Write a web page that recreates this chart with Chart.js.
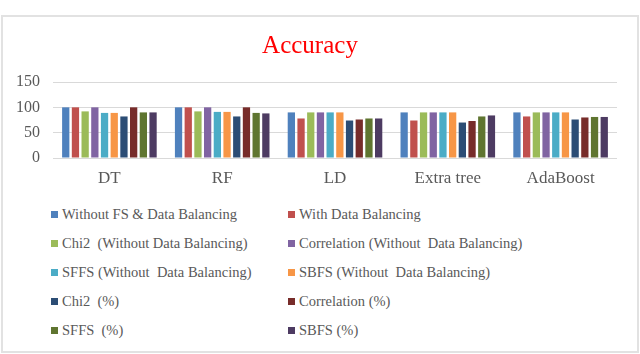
<!DOCTYPE html>
<html lang="en">
<head>
    <meta charset="UTF-8">
    <title>Accuracy</title>
    <script src="https://cdn.jsdelivr.net/npm/chart.js"></script>
    <style>
        body {
            margin: 0;
            width: 640px;
            height: 354px;
            background: #fff;
            position: relative;
            overflow: hidden;
            font-family: "Liberation Serif", serif;
        }
        .frame {
            position: absolute;
            left: 1px;
            top: 15px;
            width: 634px;
            height: 334px;
            border: 2px solid #e2e2e2;
        }
        .chart-box {
            position: absolute;
            left: 3px;
            top: 17px;
            width: 634px;
            height: 176px;
        }
        .legend-item {
            position: absolute;
            height: 18px;
            line-height: 18px;
            font-family: "Liberation Serif", "Times New Roman", serif;
            font-size: 14.5px;
            color: #595959;
            white-space: pre;
        }
        .legend-item span {
            position: absolute;
            top: 6px;
            width: 7px;
            height: 7px;
        }
        .legend-item b {
            font-weight: normal;
            font-family: "Liberation Serif", "Times New Roman", serif;
            position: absolute;
            left: 11px;
        }
    </style>
</head>
<body>
    <div class="frame"></div>
    <div class="chart-box">
        <canvas id="accChart"></canvas>
    </div>
    <div id="legend"></div>

    <script>
        const categories = ['DT', 'RF', 'LD', 'Extra tree', 'AdaBoost'];
        const yTicks = [0, 50, 100, 150];

        const withoutFsBal = [100, 100, 90, 90, 90];
        const withBal = [100, 100, 78, 74, 82];
        const chi2NoBal = [92, 92, 90, 90, 90];
        const corrNoBal = [100, 100, 90, 90, 90];
        const sffsNoBal = [89, 91, 90, 90, 90];
        const sbfsNoBal = [89, 91, 90, 90, 90];
        const chi2Pct = [82, 82, 74, 70, 76];
        const corrPct = [100, 100, 76, 73, 80];
        const sffsPct = [90, 89, 78, 82, 81];
        const sbfsPct = [90, 88, 78, 84, 81];

        const seriesNames = [
            'Without FS & Data Balancing',
            'With Data Balancing',
            'Chi2  (Without Data Balancing)',
            'Correlation (Without  Data Balancing)',
            'SFFS (Without  Data Balancing)',
            'SBFS (Without  Data Balancing)',
            'Chi2  (%)',
            'Correlation (%)',
            'SFFS  (%)',
            'SBFS (%)'
        ];
        const seriesValues = [withoutFsBal, withBal, chi2NoBal, corrNoBal, sffsNoBal,
                              sbfsNoBal, chi2Pct, corrPct, sffsPct, sbfsPct];
        const colors = ['#4f81bd', '#c0504d', '#9bbb59', '#8064a2', '#4bacc6',
                        '#f79646', '#2c4d75', '#772c2a', '#5f7530', '#4d3b62'];

        const textColor = '#595959';
        const font = 'Liberation Serif';

        const ctx = document.getElementById('accChart').getContext('2d');
        const chart = new Chart(ctx, {
            type: 'bar',
            data: {
                labels: categories,
                datasets: seriesNames.map((name, i) => ({
                    label: name,
                    data: seriesValues[i],
                    backgroundColor: colors[i],
                    borderWidth: 0,
                    categoryPercentage: 0.86,
                    barPercentage: 0.75
                }))
            },
            options: {
                responsive: true,
                maintainAspectRatio: false,
                animation: false,
                layout: {
                    padding: { left: 0, right: 20, top: 0, bottom: 2 }
                },
                plugins: {
                    legend: { display: false },
                    tooltip: { enabled: false },
                    title: {
                        display: true,
                        text: 'Accuracy',
                        color: '#ff0000',
                        font: { family: font, size: 25, weight: 'normal' },
                        padding: { top: 14, bottom: 21 }
                    }
                },
                scales: {
                    x: {
                        afterFit: axis => {
                            axis.height = 33;
                        },
                        grid: { display: false, drawTicks: false },
                        border: { display: false },
                        ticks: {
                            color: textColor,
                            padding: 10,
                            font: { family: font, size: 17 }
                        }
                    },
                    y: {
                        min: 0,
                        max: 150,
                        afterBuildTicks: axis => {
                            axis.ticks = yTicks.map(v => ({ value: v }));
                        },
                        afterFit: axis => {
                            axis.width = 50;
                        },
                        grid: {
                            color: '#d9d9d9',
                            lineWidth: 1,
                            drawTicks: false
                        },
                        border: { display: false },
                        ticks: {
                            autoSkip: false,
                            color: textColor,
                            padding: 13,
                            font: { family: font, size: 16 }
                        }
                    }
                }
            }
        });

        // two column legend under the chart
        const legend = document.getElementById('legend');
        const rowTops = [205, 234, 263, 292, 321];
        const colLefts = [51, 288];
        chart.data.datasets.forEach((ds, i) => {
            const item = document.createElement('div');
            item.className = 'legend-item';
            item.style.left = colLefts[i % 2] + 'px';
            item.style.top = rowTops[Math.floor(i / 2)] + 'px';
            item.innerHTML = `<span style="background:${ds.backgroundColor}"></span><b>${ds.label.replace('&', '&amp;')}</b>`;
            legend.appendChild(item);
        });
    </script>
</body>
</html>
